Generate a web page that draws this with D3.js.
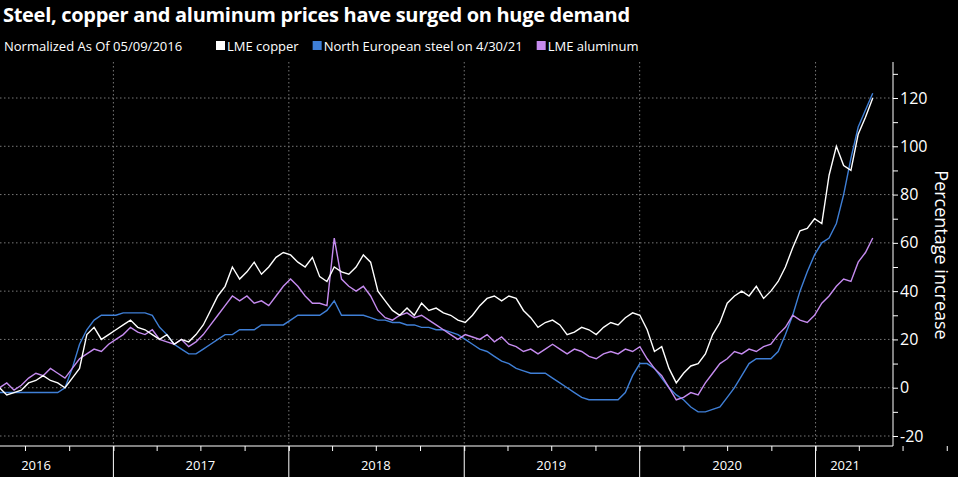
<!DOCTYPE html>
<html><head><meta charset="utf-8">
<script src="https://cdn.jsdelivr.net/npm/d3@7"></script>
<style>body{margin:0;background:#000}svg{display:block}text{font-family:"Open Sans",sans-serif;fill:#fff}</style>
</head><body><svg id="chart" width="958" height="477"></svg>
<script>
// semi-monthly values, May 2016 .. Apr 2021, plus last print
const copper = [0,-3,-2,-1,2,3,5,3,2,0,4,8,22,25,20,22,
 24,26,28,25,24,22,20,22,18,20,19,22,26,32,38,42,50,45,48,52,47,50,54,56,
 55,52,50,54,46,44,50,48,47,50,55,52,40,36,32,30,33,30,35,32,33,31,30,28,
 27,30,34,37,38,36,38,37,32,29,25,27,28,26,22,23,25,24,22,25,27,26,29,31,
 30,24,15,17,8,2,6,9,10,14,22,27,35,38,40,38,42,37,40,44,50,58,65,66,
 70,68,88,100,92,90,105,112,120];
const steel = [-2,-2,-2,-2,-2,-2,-2,-2,-2,0,8,18,24,28,30,30,
 30,31,31,31,31,30,25,22,18,16,14,14,16,18,20,22,22,24,24,24,26,26,26,26,
 28,30,30,30,30,32,36,30,30,30,30,29,28,28,27,27,26,26,25,25,24,24,23,22,
 20,18,16,15,13,11,10,8,7,6,6,6,4,2,0,-2,-4,-5,-5,-5,-5,-5,-2,5,
 10,10,8,4,0,-3,-5,-8,-10,-10,-9,-8,-4,0,5,10,12,12,12,15,22,30,40,48,
 55,60,62,68,80,95,108,115,122];
const aluminum = [0,2,-1,1,4,6,5,8,6,4,8,12,14,16,15,18,
 20,22,25,23,22,24,20,19,18,20,17,19,22,26,30,34,38,36,38,35,36,34,38,42,
 45,42,38,35,35,34,62,45,42,40,42,38,32,29,28,30,31,29,30,28,26,24,22,20,
 22,21,20,22,19,21,18,17,15,16,14,16,18,16,14,16,15,13,12,14,15,14,16,15,
 17,12,8,5,0,-5,-4,-2,-3,2,6,10,12,15,14,16,15,17,18,22,25,30,28,27,
 30,35,38,42,45,44,52,56,62];
const years = ["2016","2017","2018","2019","2020","2021"];
const yTicks = [-20,0,20,40,60,80,100,120];
const legend = [["LME copper","#ffffff"],["North European steel on 4/30/21","#3f7fd6"],["LME aluminum","#c58bef"]];

const svg = d3.select("#chart");
const start = new Date(2016,4,9), end = new Date(2021,3,30);
const x = d3.scaleTime().domain([new Date(2016,0,1), new Date(2021,11,31)]).range([113-175.5, 815+175.5]);
const y = d3.scaleLinear().domain([-20,120]).range([436,98]);
const dateAt = (arr) => (d,i) => new Date(+start + (end-start)*i/(arr.length-1));

svg.append("text").attr("x",3).attr("y",22).attr("font-size",20).attr("font-weight","bold")
 .attr("style","font-family:'Open Sans';letter-spacing:-0.3px").text("Steel, copper and aluminum prices have surged on huge demand");
svg.append("text").attr("x",4).attr("y",51).attr("font-size",13).text("Normalized As Of 05/09/2016");
let lx = 216;
legend.forEach(([t,c]) => {
 svg.append("rect").attr("x",lx).attr("y",41).attr("width",9).attr("height",9).attr("fill",c);
 const tx = svg.append("text").attr("x",lx+11).attr("y",51).attr("font-size",13).text(t);
 lx += 11 + tx.node().getComputedTextLength() + 14;
});

// grid
svg.append("g").selectAll("line").data(yTicks).join("line")
 .attr("x1",0).attr("x2",893).attr("y1",d=>y(d)).attr("y2",d=>y(d))
 .attr("stroke","#777").attr("stroke-dasharray","1.5,2.5");
const yearStarts = years.slice(1).map(s=>new Date(+s,0,1));
svg.append("g").selectAll("line").data(yearStarts).join("line")
 .attr("x1",d=>x(d)).attr("x2",d=>x(d)).attr("y1",62).attr("y2",446)
 .attr("stroke","#777").attr("stroke-dasharray","1.5,2.5");

// right axis
const ya = svg.append("g").attr("transform","translate(893,0)")
 .call(d3.axisRight(y).tickValues(d3.range(-20,131,10)).tickSize(5).tickFormat(d=>yTicks.includes(d)?d:""));
ya.select(".domain").attr("stroke","#fff").attr("d","M0,62V446");
ya.selectAll(".tick line").attr("stroke","#fff");
ya.selectAll("text").attr("font-size",16).attr("x",7).attr("fill","#fff");
svg.append("text").attr("transform","translate(935,255) rotate(90)").attr("text-anchor","middle")
 .attr("font-size",18).text("Percentage increase");

// bottom axis
const xa = svg.append("g").attr("transform","translate(0,446)")
 .call(d3.axisBottom(x).ticks(d3.timeMonth.every(3)).tickSize(5).tickFormat(""));
xa.select(".domain").attr("stroke","#fff").attr("d","M0,0H893");
xa.selectAll(".tick line").attr("stroke","#fff");
svg.append("g").selectAll("line").data(yearStarts).join("line")
 .attr("x1",d=>x(d)).attr("x2",d=>x(d)).attr("y1",446).attr("y2",477).attr("stroke","#fff");
svg.append("g").selectAll("text").data(years).join("text")
 .attr("x",d=>Math.min(Math.max(x(new Date(+d,6,1)),36),845)).attr("y",470).attr("text-anchor","middle")
 .attr("font-size",13).text(d=>d);

const line = (arr) => d3.line().x((d,i)=>x(dateAt(arr)(d,i))).y(d=>y(d));
[[steel,"#3f7fd6"],[aluminum,"#c58bef"],[copper,"#ffffff"]].forEach(([a,c]) => {
 svg.append("path").datum(a).attr("d",line(a)).attr("fill","none").attr("stroke",c).attr("stroke-width",1.4);
});
</script></body></html>
